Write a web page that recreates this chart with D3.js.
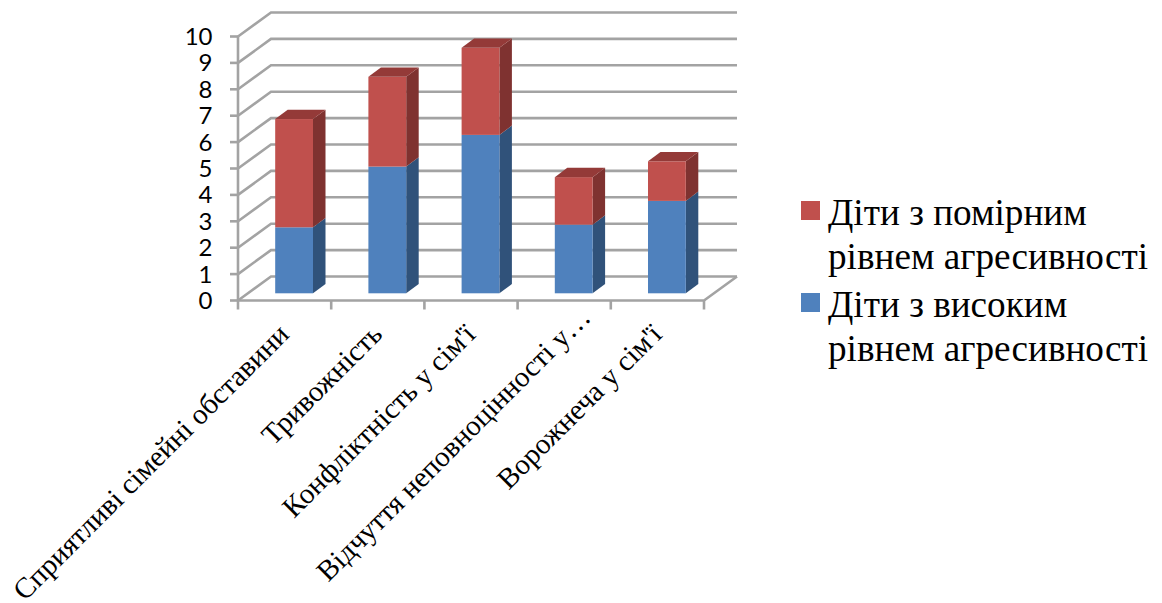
<!DOCTYPE html>
<html lang="uk">
<head>
<meta charset="utf-8">
<script src="https://cdn.jsdelivr.net/npm/d3@7/dist/d3.min.js"></script>
<style>
html,body{margin:0;padding:0;background:#fff;overflow:hidden}
svg{display:block}
</style>
</head>
<body>
<svg id="chart" width="1162" height="603"></svg>
<script>
const categories = ["Сприятливі сімейні обставини","Тривожність","Конфліктність у сім'ї","Відчуття неповноцінності у…","Ворожнеча у сім'ї"];
const highLevel = [2.5,4.8,6.0,2.6,3.5];
const moderateLevel = [4.1,3.4,3.3,1.8,1.5];
const yTicks = [0,1,2,3,4,5,6,7,8,9,10];
const legendLines = [
  {key:"moderate", lines:["Діти з помірним","рівнем агресивності"]},
  {key:"high", lines:["Діти з високим","рівнем агресивності"]}
];

const svg = d3.select("#chart");
const x = d3.scaleBand().domain(categories).range([238,704]);
const y = d3.scaleLinear().domain([0,10]).range([300.5,36.5]);
const wall = {dx:33, dy:-24};      // depth of the chart box
const inset = {dx:9.5, dy:-7.2};   // bars stand this far back on the floor
const depth = {dx:12.5, dy:-9.3};  // depth of each column
const barW = 37.8;
const gridColor = "#a3a3a3";

const palette = {
  high:{front:"#4f81bd", side:"#30527a", top:"#3d659a"},
  moderate:{front:"#c0504d", side:"#7f3230", top:"#943a38"}
};

// Box: wall gridlines, floor edge and axes
const grid = svg.append("g").attr("fill","none").attr("stroke",gridColor).attr("stroke-width",2.6);
grid.selectAll("path.g").data(yTicks).join("path").attr("class","g")
  .attr("d",v=>{
    const p=d3.path(); p.moveTo(238,y(v)); p.lineTo(238+wall.dx,y(v)+wall.dy); p.lineTo(704+wall.dx,y(v)+wall.dy); return p;
  });
grid.append("path").attr("d",()=>{
  const p=d3.path(); p.moveTo(238,y(0)); p.lineTo(704,y(0)); p.lineTo(704+wall.dx,y(0)+wall.dy); return p;
});
grid.append("line").attr("x1",238).attr("x2",238).attr("y1",y(10)).attr("y2",y(0)+9);
grid.selectAll("line.t").data(yTicks).join("line").attr("class","t")
  .attr("x1",230).attr("x2",238).attr("y1",v=>y(v)).attr("y2",v=>y(v));
const tickX = categories.map(c=>x(c)+x.bandwidth());
grid.selectAll("line.c").data(tickX).join("line").attr("class","c")
  .attr("x1",d=>d).attr("x2",d=>d).attr("y1",y(0)).attr("y2",y(0)+9);

// Stacked 3D columns
const stacks = categories.map((c,i)=>({c, segs:[
  {key:"high", v0:0, v1:highLevel[i]},
  {key:"moderate", v0:highLevel[i], v1:highLevel[i]+moderateLevel[i]}
]}));
const poly = pts=>pts.map(p=>p.join(",")).join(" ");
const bars = svg.append("g");
stacks.forEach(st=>{
  const x0 = x(st.c)+x.bandwidth()/2-barW/2+inset.dx;
  const x1 = x0+barW;
  st.segs.forEach((s,j)=>{
    const yb = y(s.v0)+inset.dy, yt = y(s.v1)+inset.dy;
    const col = palette[s.key];
    const g = bars.append("g");
    g.append("polygon").attr("fill",col.side)
      .attr("points",poly([[x1,yb],[x1+depth.dx,yb+depth.dy],[x1+depth.dx,yt+depth.dy],[x1,yt]]));
    g.append("rect").attr("fill",col.front).attr("x",x0).attr("y",yt).attr("width",barW).attr("height",yb-yt);
    if(j===1) g.append("polygon").attr("fill",col.top)
      .attr("points",poly([[x0,yt],[x0+depth.dx,yt+depth.dy],[x1+depth.dx,yt+depth.dy],[x1,yt]]));
  });
});

// Value labels
svg.append("g").selectAll("text").data(yTicks).join("text")
  .attr("x",212.5).attr("y",v=>y(v)+8.5).attr("text-anchor","end")
  .attr("font-family","Lato, sans-serif").attr("font-size",24).attr("fill","#000")
  .text(d=>d);

// Slanted category labels; the truncated one runs further along its slant
svg.append("g").selectAll("text").data(categories).join("text")
  .attr("text-anchor","end")
  .attr("transform",c=>{
    const cut = c.endsWith("…");
    const tx = x(c)+x.bandwidth()/2+6+(cut?22:0);
    const ty = 336+(cut?-17:0);
    return `translate(${tx},${ty}) rotate(-45)`;
  })
  .attr("font-family","'Liberation Serif', serif").attr("font-size",29).attr("fill","#000")
  .text(d=>d);

// Legend
const legend = svg.append("g");
legendLines.forEach((item,i)=>{
  const top = 201+i*92;
  legend.append("rect").attr("x",801).attr("y",top).attr("width",19).attr("height",19).attr("fill",palette[item.key].front);
  const t = legend.append("text").attr("font-family","'Liberation Serif', serif").attr("font-size",37.2).attr("fill","#000");
  item.lines.forEach((ln,k)=>t.append("tspan").attr("x",828).attr("y",top+24+k*43.5).text(ln));
});
</script>
</body>
</html>
